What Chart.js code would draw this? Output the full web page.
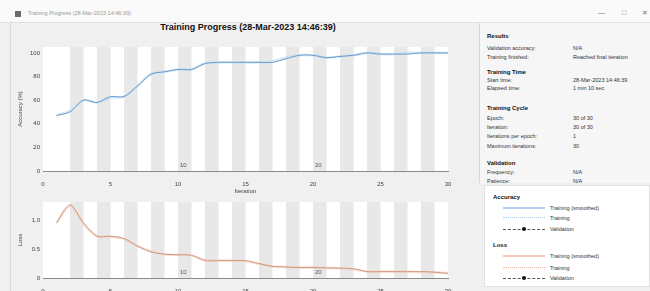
<!DOCTYPE html>
<html lang="en">
<head>
<meta charset="UTF-8">
<title>Training Progress</title>
<script src="https://cdn.jsdelivr.net/npm/chart.js"></script>
<style>
  body {
    margin: 0;
    width: 650px;
    height: 291px;
    overflow: hidden;
    position: relative;
    background: #f0f0f0;
    font-family: "Liberation Sans", Arial, sans-serif;
    color: #222;
  }
  .titlebar {
    position: absolute; left: 0; top: 0; width: 650px; height: 22px;
    background: #fafafa; border-bottom: 1px solid #e2e2e2;
  }
  .titlebar .icon {
    position: absolute; left: 15px; top: 11px; width: 6px; height: 6px; background: #6b6b6b;
  }
  .titlebar .txt {
    position: absolute; left: 28px; top: 10px; font-size: 5.5px; color: #999;
  }
  .titlebar .ctl {
    position: absolute; top: 9px; font-size: 7px; color: #777;
  }
  .leftpane {
    position: absolute; left: 10px; top: 23px; width: 456px; height: 268px;
    border-left: 1px solid #dcdcdc;
  }
  .maintitle {
    position: absolute; left: 10px; top: 22px; width: 476px; text-align: center;
    font-size: 9px; font-weight: bold; color: #111;
  }
  canvas { position: absolute; left: 0; }
  #accChart { top: 40px; }
  #lossChart { top: 195px; }
  .info {
    position: absolute; left: 479px; top: 23px; width: 171px; height: 160px;
    background: #f6f6f6; border-left: 1px solid #d6d6d6; overflow: hidden;
  }
  .info div { position: absolute; font-size: 5.5px; white-space: nowrap; color: #333; }
  .info .h { font-weight: bold; font-size: 6px; color: #111; }
  .legend {
    position: absolute; left: 484px; top: 185px; width: 166px; height: 102px;
    background: #fff; border: 1px solid #e0e0e0; box-sizing: border-box;
  }
  .legend div { position: absolute; white-space: nowrap; }
  .legend .h { font-weight: bold; font-size: 6px; color: #111; left: 8px; }
  .legend .lbl { font-size: 5.5px; color: #333; left: 65px; }
  .legend .smp { left: 18px; width: 42px; height: 0; }
  .legend .dot { width: 4px; height: 4px; border-radius: 50%; background: #111; left: 37px; }
</style>
</head>
<body>
  <div class="titlebar">
    <div class="icon"></div>
    <div class="txt">Training Progress (28-Mar-2023 14:46:39)</div>
    <div class="ctl" style="left:598px">&#8212;</div>
    <div class="ctl" style="left:622px">&#9633;</div>
    <div class="ctl" style="left:642px">&#10005;</div>
  </div>
  <div class="leftpane"></div>
  <div class="maintitle">Training Progress (28-Mar-2023 14:46:39)</div>

  <canvas id="accChart" width="465" height="155"></canvas>
  <canvas id="lossChart" width="465" height="96"></canvas>

  <div class="info">
    <div class="h" style="left:7px;top:10px">Results</div>
    <div style="left:7px;top:22px">Validation accuracy:</div><div style="left:93px;top:22px">N/A</div>
    <div style="left:7px;top:31px">Training finished:</div><div style="left:93px;top:31px">Reached final iteration</div>
    <div class="h" style="left:7px;top:46px">Training Time</div>
    <div style="left:7px;top:54px">Start time:</div><div style="left:93px;top:54px">28-Mar-2023 14:46:39</div>
    <div style="left:7px;top:62px">Elapsed time:</div><div style="left:93px;top:62px">1 min 10 sec</div>
    <div class="h" style="left:7px;top:82px">Training Cycle</div>
    <div style="left:7px;top:92px">Epoch:</div><div style="left:93px;top:92px">30 of 30</div>
    <div style="left:7px;top:101px">Iteration:</div><div style="left:93px;top:101px">30 of 30</div>
    <div style="left:7px;top:110px">Iterations per epoch:</div><div style="left:93px;top:110px">1</div>
    <div style="left:7px;top:120px">Maximum iterations:</div><div style="left:93px;top:120px">30</div>
    <div class="h" style="left:7px;top:137px">Validation</div>
    <div style="left:7px;top:146px">Frequency:</div><div style="left:93px;top:146px">N/A</div>
    <div style="left:7px;top:155px">Patience:</div><div style="left:93px;top:155px">N/A</div>
  </div>

  <div class="legend">
    <div class="h" style="top:8px">Accuracy</div>
    <div class="smp" style="top:21px;border-top:2px solid #b4d2ee"></div>
    <div class="lbl" style="top:19px">Training (smoothed)</div>
    <div class="smp" style="top:31px;border-top:1px dotted #a9c9e8"></div>
    <div class="lbl" style="top:29px">Training</div>
    <div class="smp" style="top:43px;border-top:1px dashed #555"></div>
    <div class="dot" style="top:41px"></div>
    <div class="lbl" style="top:40px">Validation</div>
    <div class="h" style="top:56px">Loss</div>
    <div class="smp" style="top:69px;border-top:2px solid #f3cab8"></div>
    <div class="lbl" style="top:67px">Training (smoothed)</div>
    <div class="smp" style="top:81px;border-top:1px dotted #ecbca6"></div>
    <div class="lbl" style="top:79px">Training</div>
    <div class="smp" style="top:92px;border-top:1px dashed #555"></div>
    <div class="dot" style="top:90px"></div>
    <div class="lbl" style="top:89px">Validation</div>
  </div>

  <script>
    // Data
    const iterations = [1, 2, 3, 4, 5, 6, 7, 8, 9, 10, 11, 12, 13, 14, 15,
                        16, 17, 18, 19, 20, 21, 22, 23, 24, 25, 26, 27, 28, 29, 30];
    const accuracySmoothed = [47, 50, 60, 58, 63, 63, 72, 82, 84, 86, 86, 91, 92, 92, 92,
                              92, 92, 95, 98, 98, 96, 97, 98, 100, 99, 99, 99, 100, 100, 100];
    const accuracyRaw = [47, 51, 60, 58, 62, 63, 72, 82, 84, 86, 86, 91, 92, 92, 92,
                         92, 93, 96, 98, 98, 96, 97, 98, 100, 99, 99, 100, 100, 100, 100];
    const lossSmoothed = [0.95, 1.26, 0.95, 0.72, 0.72, 0.68, 0.55, 0.45, 0.41, 0.40, 0.39, 0.30, 0.30, 0.30, 0.30,
                          0.25, 0.20, 0.19, 0.18, 0.18, 0.175, 0.17, 0.16, 0.11, 0.11, 0.11, 0.11, 0.11, 0.10, 0.08];
    const lossRaw = [0.95, 1.24, 0.93, 0.72, 0.71, 0.67, 0.55, 0.46, 0.41, 0.40, 0.39, 0.31, 0.30, 0.30, 0.29,
                     0.24, 0.20, 0.19, 0.18, 0.18, 0.17, 0.17, 0.15, 0.11, 0.11, 0.11, 0.11, 0.10, 0.10, 0.08];
    const xTicks = [0, 5, 10, 15, 20, 25, 30];
    const accTicks = [0, 20, 40, 60, 80, 100];
    const lossTicks = [0, 0.5, 1];
    const shadedEpochs = [3, 5, 7, 9, 11, 13, 15, 17, 19, 21, 23, 25, 27, 29];
    const epochLabels = [10, 20];

    const font = { family: '"Liberation Sans", Arial, sans-serif', size: 6 };

    function pts(ys) {
      return iterations.map((x, i) => ({ x: x, y: ys[i] }));
    }

    // white plot area, grey bands for alternate epochs, epoch numbers
    const epochBands = {
      id: 'epochBands',
      beforeDatasetsDraw(chart) {
        const { ctx, chartArea: a, scales: { x } } = chart;
        ctx.save();
        ctx.fillStyle = '#ffffff';
        ctx.fillRect(a.left, a.top, a.right - a.left, a.bottom - a.top);
        ctx.fillStyle = '#e8e8e8';
        shadedEpochs.forEach(e => {
          const x0 = x.getPixelForValue(e - 1);
          const x1 = x.getPixelForValue(e);
          ctx.fillRect(x0, a.top, x1 - x0, a.bottom - a.top);
        });
        ctx.fillStyle = '#555';
        ctx.font = '6px "Liberation Sans", Arial, sans-serif';
        ctx.textBaseline = 'bottom';
        epochLabels.forEach(e => {
          ctx.fillText(String(e), x.getPixelForValue(e) + 2, a.bottom - 3);
        });
        ctx.restore();
      }
    };

    function makeChart(id, opts) {
      return new Chart(document.getElementById(id), {
        type: 'line',
        data: {
          datasets: [
            {
              data: pts(opts.smoothed),
              borderColor: opts.dark,
              borderWidth: 1,
              pointRadius: 0,
              tension: 0.3,
              order: 1
            },
            {
              data: pts(opts.raw),
              borderColor: opts.light,
              borderWidth: 2.5,
              pointRadius: 0,
              tension: 0.3,
              order: 2
            }
          ]
        },
        options: {
          responsive: false,
          animation: false,
          layout: { padding: { left: 17, right: 17, top: 7, bottom: 0 } },
          plugins: { legend: { display: false }, tooltip: { enabled: false } },
          scales: {
            x: {
              type: 'linear',
              min: 0,
              max: 30,
              afterBuildTicks: s => { s.ticks = xTicks.map(v => ({ value: v })); },
              afterFit: s => { s.height = opts.xHeight; },
              grid: { display: false },
              border: { display: true, color: '#8a8a8a' },
              ticks: { font: font, color: '#444', padding: 2, maxRotation: 0 },
              title: { display: opts.xTitle, text: 'Iteration', font: font, color: '#444', padding: 0 }
            },
            y: {
              min: 0,
              max: opts.yMax,
              afterBuildTicks: s => { s.ticks = opts.yTicks.map(v => ({ value: v })); },
              afterFit: s => { s.width = 26; },
              grid: {
                drawTicks: false,
                color: ctx => (opts.gridAt !== null && ctx.tick && ctx.tick.value === opts.gridAt) ? '#dcdcdc' : 'rgba(0,0,0,0)'
              },
              border: { display: true, color: '#8a8a8a' },
              ticks: { font: font, color: '#444', padding: 3 },
              title: { display: true, text: opts.yTitle, font: font, color: '#444', padding: 0 }
            }
          }
        },
        plugins: [epochBands]
      });
    }

    makeChart('accChart', {
      smoothed: accuracySmoothed,
      raw: accuracyRaw,
      dark: '#6b9bc9',
      light: 'rgba(190,218,242,0.6)',
      yMax: 105,
      yTicks: accTicks,
      yTitle: 'Accuracy (%)',
      xTitle: true,
      xHeight: 24,
      gridAt: null
    });

    makeChart('lossChart', {
      smoothed: lossSmoothed,
      raw: lossRaw,
      dark: '#cf9a80',
      light: 'rgba(245,205,188,0.6)',
      yMax: 1.31,
      yTicks: lossTicks,
      yTitle: 'Loss',
      xTitle: false,
      xHeight: 13,
      gridAt: 0.5
    });
  </script>
</body>
</html>
